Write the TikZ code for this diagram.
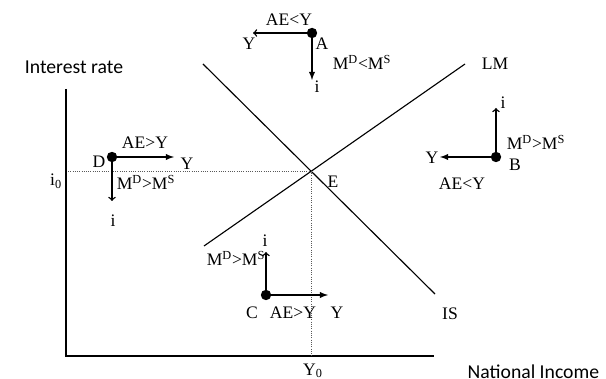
\documentclass[tikz,border=0pt]{standalone}
\usepackage{fontspec}
\setmainfont{Liberation Serif}
\newfontfamily\axisfont{Carlito}
\usetikzlibrary{arrows, positioning}

\tikzset{
    dot/.style={circle, fill, inner sep=0pt, minimum size=0.26cm},
    lbl/.style={inner sep=1pt},
    curve/.style={line width=0.8pt},
    move/.style={line width=1pt},
    guide/.style={densely dotted, line width=0.6pt, gray!70!black}
}

\begin{document}
\begin{tikzpicture}[x=0.025cm, y=-0.025cm, font=\fontsize{12.5}{14}\selectfont]
    \useasboundingbox (0,0) rectangle (606,379);

    % axes
    \coordinate (top) at (66,89);
    \coordinate (origin) at (66,356);
    \coordinate (right) at (434,356);
    \draw[line width=1.2pt] (top) -- (origin) -- (right);
    \node [lbl, font=\axisfont\fontsize{14}{16}\selectfont] (yaxis) at (74,67) {Interest rate};
    \node [lbl, anchor=west, font=\axisfont\fontsize{14}{16}\selectfont] (xaxis) at (466,372) {National Income};

    % IS and LM
    \coordinate (lm1) at (204,246);
    \coordinate (lm2) at (465,64);
    \coordinate (is1) at (203,64);
    \coordinate (is2) at (435,294);
    \draw[curve] (lm1) -- (lm2);
    \draw[curve] (is1) -- (is2);
    \node [lbl] (lm) at (495,64) {LM};
    \node [lbl] (is) at (450,314) {IS};

    % equilibrium
    \coordinate (eq) at (311,171);
    \coordinate (iaxis) at (68,171);
    \coordinate (yfoot) at (311,356);
    \draw[guide] (iaxis) -- (eq) -- (yfoot);
    \node [lbl] (e) at (333,182) {E};
    \node [lbl] (i0) at (56,181) {i\textsubscript{0}};
    \node [lbl] (y0) at (313,371) {Y\textsubscript{0}};

    % point A
    \node [dot] (dotA) at (312,33) {};
    \coordinate (aleft) at (253,33);
    \coordinate (adown) at (312,80);
    \draw[move, ->] (dotA) -- (aleft);
    \draw[move, -latex] (dotA) -- (adown);
    \node [lbl] (aey) at (289,20) {AE<Y};
    \node [lbl] (ay) at (249,44) {Y};
    \node [lbl] (a) at (322,44) {A};
    \node [lbl] (amd) at (362,62) {M\textsuperscript{D}<M\textsuperscript{S}};
    \node [lbl] (ai) at (317,87) {i};

    % point D
    \node [dot] (dotD) at (112,157) {};
    \coordinate (dright) at (174,157);
    \coordinate (ddown) at (112,201);
    \draw[move, -latex] (dotD) -- (dright);
    \draw[move, ->] (dotD) -- (ddown);
    \node [lbl] (dey) at (145,143) {AE>Y};
    \node [lbl] (dy) at (187,164) {Y};
    \node [lbl] (d) at (99,162) {D};
    \node [lbl] (dmd) at (146,182) {M\textsuperscript{D}>M\textsuperscript{S}};
    \node [lbl] (di) at (113,221) {i};

    % point B
    \node [dot] (dotB) at (496,157) {};
    \coordinate (bleft) at (440,157);
    \coordinate (bup) at (496,108);
    \draw[move, -latex] (dotB) -- (bleft);
    \draw[move, ->] (dotB) -- (bup);
    \node [lbl] (bi) at (503,103) {i};
    \node [lbl] (bmd) at (536,142) {M\textsuperscript{D}>M\textsuperscript{S}};
    \node [lbl] (b) at (515,165) {B};
    \node [lbl] (bey) at (462,184) {AE<Y};
    \node [lbl] (by) at (432,158) {Y};

    % point C
    \node [dot] (dotC) at (266,295) {};
    \coordinate (cright) at (328,295);
    \coordinate (cup) at (266,252);
    \draw[move, -latex] (dotC) -- (cright);
    \draw[move, ->] (dotC) -- (cup);
    \node [lbl] (ci) at (265,241) {i};
    \node [lbl] (cmd) at (236,258) {M\textsuperscript{D}>M\textsuperscript{S}};
    \node [lbl] (c) at (252,313) {C};
    \node [lbl] (cey) at (293,313) {AE>Y};
    \node [lbl] (cy) at (337,313) {Y};
\end{tikzpicture}
\end{document}
